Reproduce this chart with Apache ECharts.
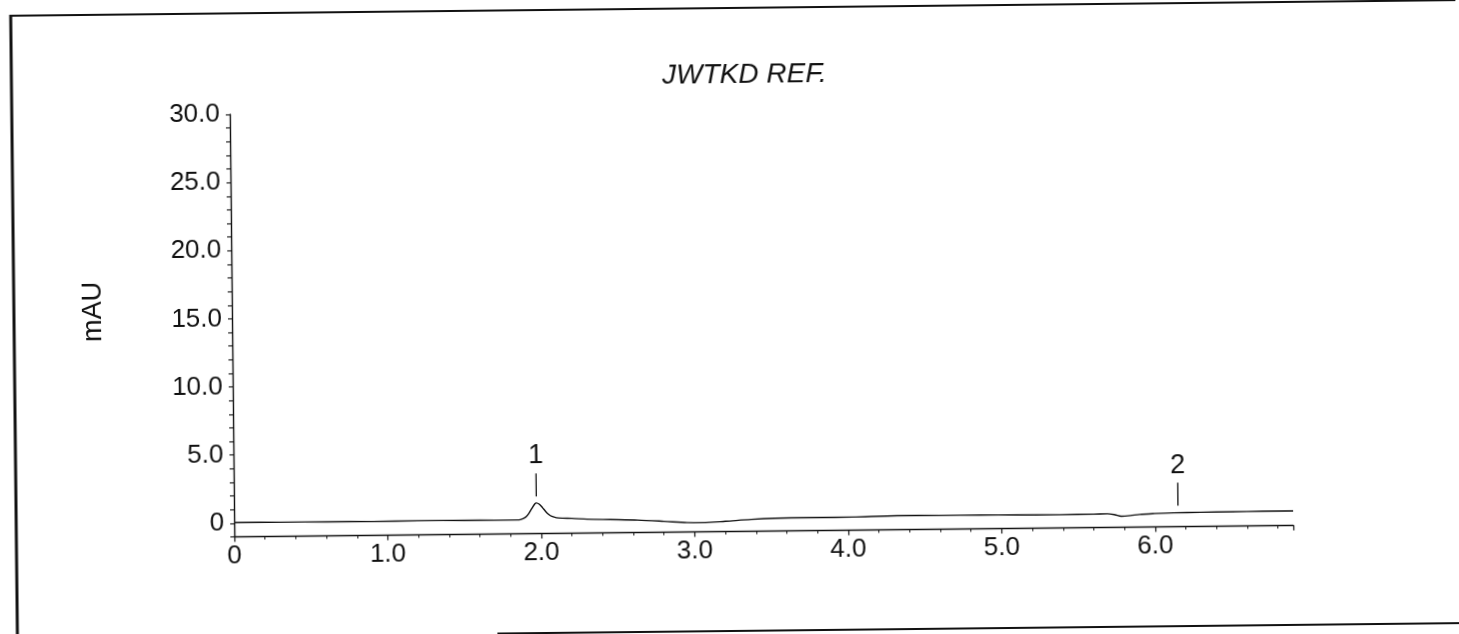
<!DOCTYPE html>
<html>
<head>
<meta charset="utf-8">
<script src="https://cdn.jsdelivr.net/npm/echarts@6/dist/echarts.min.js"></script>
<style>
  html, body { margin: 0; padding: 0; background: #fff; overflow: hidden; }
  /* the printed sheet sits slightly askew */
  #chart { width: 1459px; height: 634px; transform: rotate(-0.62deg); transform-origin: 50% 50%; }
</style>
</head>
<body>
<div id="chart"></div>
<script>
// Run title and detector units
const chartTitle = 'JWTKD REF.';
const yAxisName = 'mAU';

// Retention time (min) and detector response (mAU)
const timeMin = [
  0.00, 0.30, 0.60, 0.90, 1.20, 1.50, 1.70, 1.84, 1.87, 1.90, 1.92, 1.94, 1.96, 1.97,
  1.99, 2.01, 2.03, 2.05, 2.07, 2.10, 2.14, 2.20, 2.30, 2.45, 2.63, 2.80, 2.95, 3.05,
  3.20, 3.37, 3.63, 3.80, 4.03, 4.32, 4.60, 4.86, 5.10, 5.38, 5.60, 5.69, 5.74, 5.78,
  5.84, 5.90, 6.00, 6.12, 6.30, 6.50, 6.70, 6.90
];
const absorbance = [
  0.05, 0.04, 0.03, 0.02, 0.04, 0.03, 0.02, 0.02, 0.06, 0.22, 0.48, 0.85, 1.18, 1.25,
  1.15, 0.90, 0.62, 0.40, 0.25, 0.15, 0.11, 0.09, 0.02, -0.03, -0.09, -0.20, -0.31, -0.33,
  -0.25, -0.13, -0.05, -0.05, -0.04, 0.03, 0.02, 0.01, -0.01, -0.04, -0.02, 0.00, -0.08, -0.19,
  -0.15, -0.07, -0.02, 0.02, 0.04, 0.05, 0.06, 0.06
];

// Integrated peaks: retention time, response at the apex, peak number
const peakTimes = [1.97, 6.15];
const peakHeights = [1.25, 0.06];
const peakNames = ['1', '2'];

// Tick labels
const xTickLabels = ['0', '1.0', '2.0', '3.0', '4.0', '5.0', '6.0'];
const yTickLabels = ['0', '5.0', '10.0', '15.0', '20.0', '25.0', '30.0'];

const ink = '#111111';
const font = "'Liberation Sans', Arial, sans-serif";

const chart = echarts.init(document.getElementById('chart'), null, { renderer: 'canvas' });

const trace = timeMin.map((t, i) => [t, absorbance[i]]);

chart.setOption({
  backgroundColor: '#ffffff',
  animation: false,
  title: {
    text: chartTitle,
    left: 747,
    top: 61,
    padding: 0,
    textAlign: 'center',
    textStyle: { color: ink, fontFamily: font, fontSize: 28, fontStyle: 'italic', fontWeight: 'normal' }
  },
  graphic: [
    // sheet frame
    { type: 'line', shape: { x1: 14, y1: 7, x2: 14, y2: 660 }, style: { stroke: ink, lineWidth: 3 } },
    { type: 'line', shape: { x1: 13, y1: 8, x2: 1480, y2: 8 }, style: { stroke: ink, lineWidth: 2 } },
    { type: 'line', shape: { x1: 494, y1: 631, x2: 1480, y2: 631 }, style: { stroke: ink, lineWidth: 2 } },
    // detector axis caption
    {
      type: 'text', x: 94, y: 305, rotation: Math.PI / 2,
      style: { text: yAxisName, align: 'center', verticalAlign: 'middle', fill: ink, font: '27px ' + font }
    }
  ],
  grid: { left: 232, right: 168, top: 109, bottom: 102.5, containLabel: false },
  xAxis: {
    type: 'value',
    min: 0,
    max: 6.9,
    interval: 1,
    axisLine: { show: true, onZero: false, lineStyle: { color: ink, width: 1.4 } },
    axisTick: { show: true, length: 5, lineStyle: { color: ink, width: 1.2 } },
    minorTick: { show: true, splitNumber: 5, length: 3, lineStyle: { color: ink, width: 1 } },
    splitLine: { show: false },
    axisLabel: {
      color: ink, fontFamily: font, fontSize: 26, margin: 6, showMaxLabel: false,
      formatter: v => (Number.isInteger(v) && xTickLabels[v] !== undefined) ? xTickLabels[v] : ''
    }
  },
  yAxis: {
    type: 'value',
    min: -1,
    max: 30,
    interval: 1,
    axisLine: { show: true, onZero: false, lineStyle: { color: ink, width: 1.4 } },
    axisTick: { show: true, length: 4, lineStyle: { color: ink, width: 1.1 } },
    splitLine: { show: false },
    axisLabel: {
      color: ink, fontFamily: font, fontSize: 26, margin: 10,
      formatter: v => (v >= 0 && v % 5 === 0) ? yTickLabels[v / 5] : ''
    }
  },
  series: [{
    type: 'line',
    data: trace,
    showSymbol: false,
    smooth: 0.3,
    clip: false,
    lineStyle: { color: ink, width: 1.4 },
    markPoint: {
      symbol: 'rect',
      symbolSize: [1.3, 23],
      symbolOffset: [0, -18],
      itemStyle: { color: ink },
      label: {
        show: true, position: 'top', distance: 4,
        color: ink, fontFamily: font, fontSize: 27,
        formatter: p => p.name
      },
      data: peakTimes.map((t, i) => ({ name: peakNames[i], coord: [t, peakHeights[i]] }))
    }
  }]
});
</script>
</body>
</html>
